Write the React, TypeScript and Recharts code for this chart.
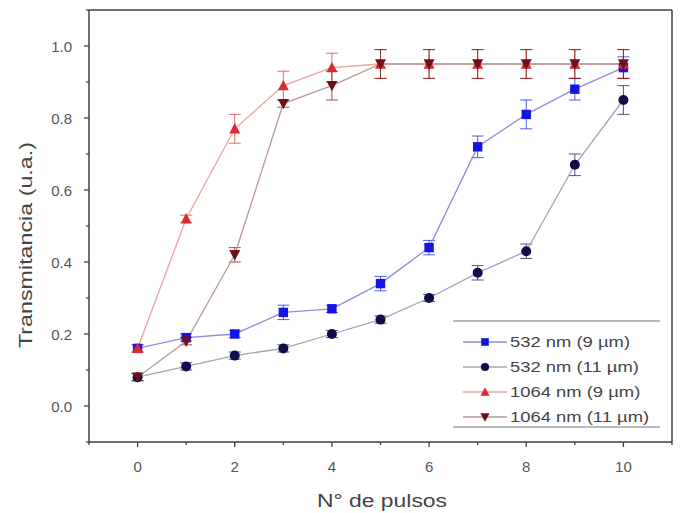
import React from "react";
import {
  ComposedChart,
  Line,
  XAxis,
  YAxis,
  ErrorBar,
  ReferenceLine,
} from "recharts";

const pulsos = [0, 1, 2, 3, 4, 5, 6, 7, 8, 9, 10];

const t532_9 = [0.16, 0.19, 0.2, 0.26, 0.27, 0.34, 0.44, 0.72, 0.81, 0.88, 0.94];
const e532_9 = [0.01, 0.01, 0.01, 0.02, 0.01, 0.02, 0.02, 0.03, 0.04, 0.03, 0.03];
const t532_11 = [0.08, 0.11, 0.14, 0.16, 0.2, 0.24, 0.3, 0.37, 0.43, 0.67, 0.85];
const e532_11 = [0.01, 0.01, 0.01, 0.01, 0.01, 0.01, 0.01, 0.02, 0.02, 0.03, 0.04];
const t1064_9 = [0.16, 0.52, 0.77, 0.89, 0.94, 0.95, 0.95, 0.95, 0.95, 0.95, 0.95];
const e1064_9 = [0.01, 0.01, 0.04, 0.04, 0.04, 0.04, 0.04, 0.04, 0.04, 0.04, 0.04];
const t1064_11 = [0.08, 0.18, 0.42, 0.84, 0.89, 0.95, 0.95, 0.95, 0.95, 0.95, 0.95];
const e1064_11 = [0.01, 0.01, 0.02, 0.01, 0.04, 0.04, 0.04, 0.04, 0.04, 0.04, 0.04];

const xMajor = [0, 2, 4, 6, 8, 10];
const xMinor = [-1, 1, 3, 5, 7, 9, 11];
const yMajor = [0, 0.2, 0.4, 0.6, 0.8, 1.0];
const yMinor = [-0.1, 0.1, 0.3, 0.5, 0.7, 0.9, 1.1];

const SERIES = [
  { key: "s1", err: "e1", nom: "532 nm (9 \u00b5m)", marca: "#1414e6", linea: "#8c8ce0", forma: "square" },
  { key: "s2", err: "e2", nom: "532 nm (11 \u00b5m)", marca: "#0e0e4a", linea: "#a4a4b4", forma: "circle" },
  { key: "s3", err: "e3", nom: "1064 nm (9 \u00b5m)", marca: "#dc2a30", linea: "#f0a0a0", forma: "up" },
  { key: "s4", err: "e4", nom: "1064 nm (11 \u00b5m)", marca: "#6e1016", linea: "#b89a9a", forma: "down" },
];

const donnees = pulsos.map((x, i) => ({
  x,
  s1: t532_9[i],
  e1: e532_9[i],
  s2: t532_11[i],
  e2: e532_11[i],
  s3: t1064_9[i],
  e3: e1064_9[i],
  s4: t1064_11[i],
  e4: e1064_11[i],
}));

const FONT = "'Liberation Sans', Arial, sans-serif";
const AXE = "#404040";
const TEXTE = "#555";

function Marque({ cx, cy, forma, color, r = 4.7 }: any) {
  if (cx == null || cy == null) return null;
  if (forma === "square")
    return <rect x={cx - r} y={cy - r} width={2 * r} height={2 * r} fill={color} />;
  if (forma === "circle") return <circle cx={cx} cy={cy} r={r + 0.3} fill={color} />;
  if (forma === "up")
    return (
      <polygon
        points={`${cx},${cy - r - 1} ${cx - r - 0.8},${cy + r} ${cx + r + 0.8},${cy + r}`}
        fill={color}
      />
    );
  return (
    <polygon
      points={`${cx},${cy + r + 1} ${cx - r - 0.8},${cy - r} ${cx + r + 0.8},${cy - r}`}
      fill={color}
    />
  );
}

function TickX({ x, y, payload }: any) {
  const major = xMajor.includes(payload.value);
  return (
    <g>
      <line x1={x} y1={y} x2={x} y2={y + (major ? 5 : 3)} stroke={AXE} strokeWidth={1.3} />
      {major && (
        <text x={x} y={y + 30} textAnchor="middle" fontSize={15} fill={TEXTE} fontFamily={FONT}>
          {payload.value}
        </text>
      )}
    </g>
  );
}

function TickY({ x, y, payload }: any) {
  const major = yMajor.some((v) => Math.abs(v - payload.value) < 1e-6);
  return (
    <g>
      <line x1={x} y1={y} x2={x - (major ? 5 : 3)} y2={y} stroke={AXE} strokeWidth={1.3} />
      {major && (
        <text x={x - 17} y={y + 5.5} textAnchor="end" fontSize={15} fill={TEXTE} fontFamily={FONT}>
          {payload.value.toFixed(1)}
        </text>
      )}
    </g>
  );
}

const legendeRangs = [342, 367, 392, 417];

export default function App() {
  return (
    <div style={{ position: "absolute", left: 0, top: 0, width: 681, height: 513, background: "#fff" }}>
      <ComposedChart
        width={681}
        height={513}
        data={donnees}
        margin={{ top: 10, right: 9, bottom: 0, left: 29 }}
      >
        <XAxis
          dataKey="x"
          type="number"
          domain={[-1, 11]}
          ticks={[...xMajor, ...xMinor].sort((a, b) => a - b)}
          tick={<TickX />}
          tickLine={false}
          tickSize={0}
          tickMargin={0}
          height={71}
          axisLine={{ stroke: AXE, strokeWidth: 1.5 }}
          allowDataOverflow
        />
        <YAxis
          type="number"
          domain={[-0.1, 1.1]}
          ticks={[...yMajor, ...yMinor].sort((a, b) => a - b)}
          tick={<TickY />}
          tickLine={false}
          tickSize={0}
          tickMargin={0}
          width={60}
          axisLine={{ stroke: AXE, strokeWidth: 1.5 }}
          allowDataOverflow
        />
        <ReferenceLine x={11} stroke={AXE} strokeWidth={1.5} />
        <ReferenceLine y={1.1} stroke={AXE} strokeWidth={1.5} />
        {SERIES.map((s) => (
          <Line
            key={s.key}
            dataKey={s.key}
            name={s.nom}
            type="linear"
            stroke={s.linea}
            strokeWidth={1.3}
            isAnimationActive={false}
            dot={(p: any) => <Marque key={`${s.key}-${p.index}`} cx={p.cx} cy={p.cy} forma={s.forma} color={s.marca} />}
            activeDot={false}
          >
            <ErrorBar dataKey={s.err} direction="y" width={6} stroke={s.marca} strokeWidth={1} strokeOpacity={0.7} />
          </Line>
        ))}
        <g>
          <rect x={453} y={321} width={207} height={106} fill="#fff" />
          <line x1={453} y1={321} x2={660} y2={321} stroke="#777" strokeWidth={1.2} />
          <line x1={453} y1={427} x2={660} y2={427} stroke="#777" strokeWidth={1.2} />
          {SERIES.map((s, i) => (
            <g key={s.key}>
              <line x1={463} y1={legendeRangs[i]} x2={507} y2={legendeRangs[i]} stroke={s.linea} strokeWidth={1.3} />
              <Marque cx={485} cy={legendeRangs[i]} forma={s.forma} color={s.marca} r={3.8} />
              <text
                x={0}
                y={0}
                fontSize={14.5}
                fill="#444"
                fontFamily={FONT}
                transform={`translate(510 ${legendeRangs[i] + 5}) scale(1.27 1)`}
              >
                {s.nom}
              </text>
            </g>
          ))}
        </g>
        <text
          x={382}
          y={507}
          textAnchor="middle"
          fontSize={17.5}
          fill="#444"
          fontFamily={FONT}
          textLength={130}
          lengthAdjust="spacingAndGlyphs"
        >
          N° de pulsos
        </text>
        <text
          x={32}
          y={245}
          textAnchor="middle"
          fontSize={17.5}
          fill="#444"
          fontFamily={FONT}
          textLength={206}
          lengthAdjust="spacingAndGlyphs"
          transform="rotate(-90 32 245)"
        >
          Transmitancia (u.a.)
        </text>
      </ComposedChart>
    </div>
  );
}
